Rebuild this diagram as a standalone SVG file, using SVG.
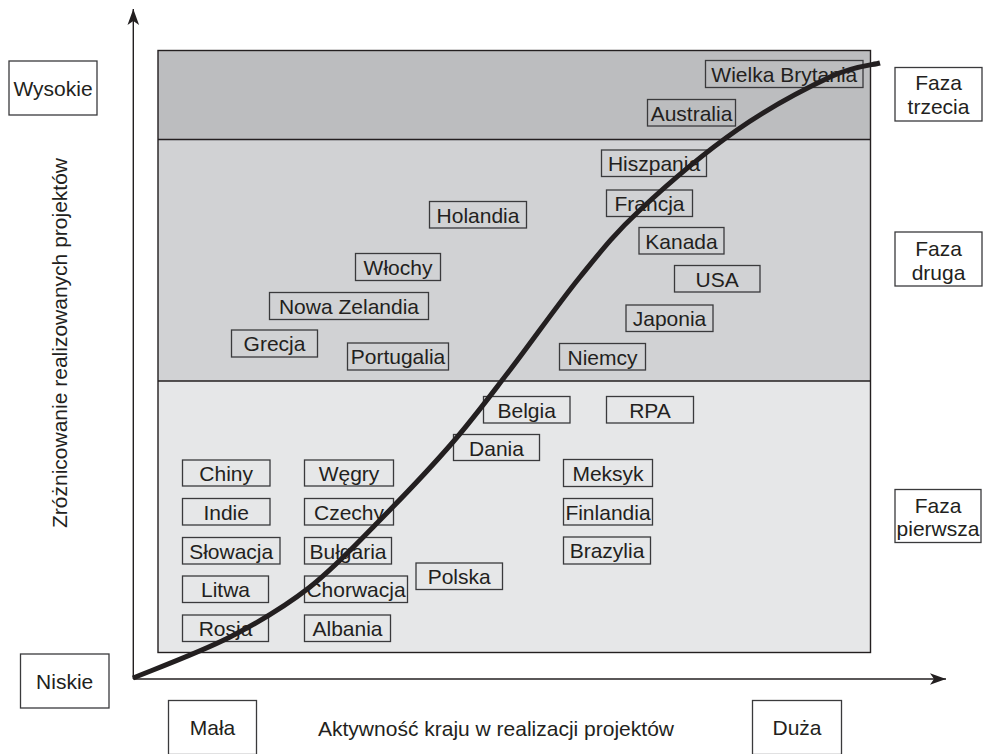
<svg xmlns="http://www.w3.org/2000/svg" width="984" height="754" viewBox="0 0 984 754">
<style>
text{font-family:"Liberation Sans",Arial,sans-serif;font-size:21px;fill:#231f20;text-anchor:middle}
.b{fill:none;stroke:#3a3a3c;stroke-width:1.3}
.w{fill:#fff;stroke:#3a3a3c;stroke-width:1.3}
.ax{stroke:#231f20;stroke-width:1.4;fill:none}
</style>
<defs>
<marker id="arr" markerUnits="userSpaceOnUse" markerWidth="20" markerHeight="14" viewBox="-17 -7 18 14" refX="0" refY="0" orient="auto">
<path d="M0,0 L-16,-5.8 L-12,0 L-16,5.8 Z" fill="#231f20"/>
</marker>
</defs>
<g id="regions">
<rect x="158" y="50.5" width="712.5" height="89" fill="#bcbdbf"/>
<rect x="158" y="139.5" width="712.5" height="241.5" fill="#d1d2d4"/>
<rect x="158" y="381" width="712.5" height="271.5" fill="#e6e7e8"/>
<line x1="158" y1="139.5" x2="870.5" y2="139.5" class="ax"/>
<line x1="158" y1="381" x2="870.5" y2="381" class="ax"/>
<rect x="158" y="50.5" width="712.5" height="602" class="ax"/>
</g>
<g id="n-wysokie"><rect class="w" x="9" y="61" width="88" height="54"/><text x="53" y="96">Wysokie</text></g>
<g id="n-niskie"><rect class="w" x="20.5" y="654" width="88.5" height="54"/><text x="64.7" y="689">Niskie</text></g>
<g id="n-mala"><rect class="w" x="168.5" y="700.5" width="88" height="54"/><text x="212.5" y="735">Mała</text></g>
<g id="n-duza"><rect class="w" x="752.5" y="700.5" width="89" height="54"/><text x="797" y="735">Duża</text></g>
<g id="n-faza3"><rect class="w" x="895" y="67.5" width="87" height="53.5"/><text x="938.5" y="90">Faza</text><text x="938.5" y="114">trzecia</text></g>
<g id="n-faza2"><rect class="w" x="895" y="232" width="87" height="54"/><text x="938.5" y="256">Faza</text><text x="938.5" y="280">druga</text></g>
<g id="n-faza1"><rect class="w" x="895" y="489.5" width="86" height="53"/><text x="938" y="513">Faza</text><text x="938" y="536">pierwsza</text></g>
<g id="t-xaxis"><text x="496" y="736">Aktywność kraju w realizacji projektów</text></g>
<g id="t-yaxis"><text transform="translate(67,343) rotate(-90)">Zróżnicowanie realizowanych projektów</text></g>
<g id="n-wielka-brytania"><rect class="b" x="705.5" y="60.5" width="157.5" height="27"/><text x="784.3" y="82">Wielka Brytania</text></g>
<g id="n-australia"><rect class="b" x="647.5" y="99.5" width="88" height="26.5"/><text x="691.5" y="121">Australia</text></g>
<g id="n-hiszpania"><rect class="b" x="601.5" y="150" width="105" height="26.5"/><text x="654" y="171">Hiszpania</text></g>
<g id="n-francja"><rect class="b" x="606.5" y="190" width="86" height="26.5"/><text x="649.5" y="211">Francja</text></g>
<g id="n-kanada"><rect class="b" x="639" y="227.5" width="85" height="26.5"/><text x="681.5" y="248.5">Kanada</text></g>
<g id="n-usa"><rect class="b" x="674.5" y="265.5" width="85.5" height="26.5"/><text x="717.2" y="286.5">USA</text></g>
<g id="n-japonia"><rect class="b" x="626" y="305" width="87" height="26.5"/><text x="669.5" y="326">Japonia</text></g>
<g id="n-niemcy"><rect class="b" x="559.5" y="343.5" width="86" height="26.5"/><text x="602.5" y="364.5">Niemcy</text></g>
<g id="n-holandia"><rect class="b" x="429.5" y="201.5" width="97" height="26.5"/><text x="478" y="222.5">Holandia</text></g>
<g id="n-wlochy"><rect class="b" x="355.5" y="253.5" width="85" height="27"/><text x="398" y="274.5">Włochy</text></g>
<g id="n-nowa-zelandia"><rect class="b" x="269.5" y="292.5" width="159" height="27"/><text x="349" y="313.5">Nowa Zelandia</text></g>
<g id="n-grecja"><rect class="b" x="231.5" y="330" width="86" height="27"/><text x="274.5" y="351">Grecja</text></g>
<g id="n-portugalia"><rect class="b" x="347.5" y="343" width="101" height="27"/><text x="398" y="364">Portugalia</text></g>
<g id="n-belgia"><rect class="b" x="483.5" y="396.5" width="86.5" height="26.5"/><text x="526.7" y="417.5">Belgia</text></g>
<g id="n-rpa"><rect class="b" x="606.5" y="396.5" width="87" height="26.5"/><text x="650" y="417.5">RPA</text></g>
<g id="n-dania"><rect class="b" x="453.5" y="434.5" width="86" height="26"/><text x="496.5" y="455.5">Dania</text></g>
<g id="n-meksyk"><rect class="b" x="563.5" y="459.5" width="89" height="27"/><text x="608" y="480.5">Meksyk</text></g>
<g id="n-finlandia"><rect class="b" x="563.5" y="498.5" width="89" height="26.5"/><text x="608" y="519.5">Finlandia</text></g>
<g id="n-brazylia"><rect class="b" x="563.5" y="537" width="87" height="27"/><text x="607" y="558">Brazylia</text></g>
<g id="n-polska"><rect class="b" x="416" y="563" width="86.5" height="26.5"/><text x="459.2" y="584">Polska</text></g>
<g id="n-chiny"><rect class="b" x="182.5" y="460" width="87.5" height="26"/><text x="226.2" y="481">Chiny</text></g>
<g id="n-wegry"><rect class="b" x="304.5" y="460" width="89" height="26"/><text x="349" y="481">Węgry</text></g>
<g id="n-indie"><rect class="b" x="182.5" y="498.5" width="87.5" height="26.5"/><text x="226.2" y="519.5">Indie</text></g>
<g id="n-czechy"><rect class="b" x="304.5" y="498.5" width="89" height="26.5"/><text x="349" y="519.5">Czechy</text></g>
<g id="n-slowacja"><rect class="b" x="182.5" y="537.5" width="97.5" height="26.5"/><text x="231.2" y="558.5">Słowacja</text></g>
<g id="n-bulgaria"><rect class="b" x="304.5" y="537.5" width="87" height="26.5"/><text x="348" y="558.5">Bułgaria</text></g>
<g id="n-litwa"><rect class="b" x="182.5" y="576" width="86" height="26.5"/><text x="225.5" y="597">Litwa</text></g>
<g id="n-chorwacja"><rect class="b" x="304.5" y="576" width="103" height="26.5"/><text x="356" y="597">Chorwacja</text></g>
<g id="n-rosja"><rect class="b" x="182.5" y="615" width="86" height="26.5"/><text x="225.5" y="636">Rosja</text></g>
<g id="n-albania"><rect class="b" x="304.5" y="615" width="86" height="26.5"/><text x="347.5" y="636">Albania</text></g>
<g id="connectors">
<line class="ax" x1="133.3" y1="679" x2="133.3" y2="9" marker-end="url(#arr)"/>
<line class="ax" x1="133.3" y1="679" x2="946" y2="679" marker-end="url(#arr)"/>
<path fill="none" stroke="#231f20" stroke-width="5" d="M133,678 C149.2,671.2 200.5,652.2 230,637 C259.5,621.8 284.5,607 310,587 C335.5,567 359.2,541.2 383,517 C406.8,492.8 431.8,466.5 453,442 C474.2,417.5 488.8,397.5 510,370 C531.2,342.5 558.3,303.7 580,277 C601.7,250.3 613.8,234.5 640,210 C666.2,185.5 705.3,152.2 737,130 C768.7,107.8 806.2,88.2 830,77 C853.8,65.8 871.7,65.3 880,63"/>
</g>
</svg>
